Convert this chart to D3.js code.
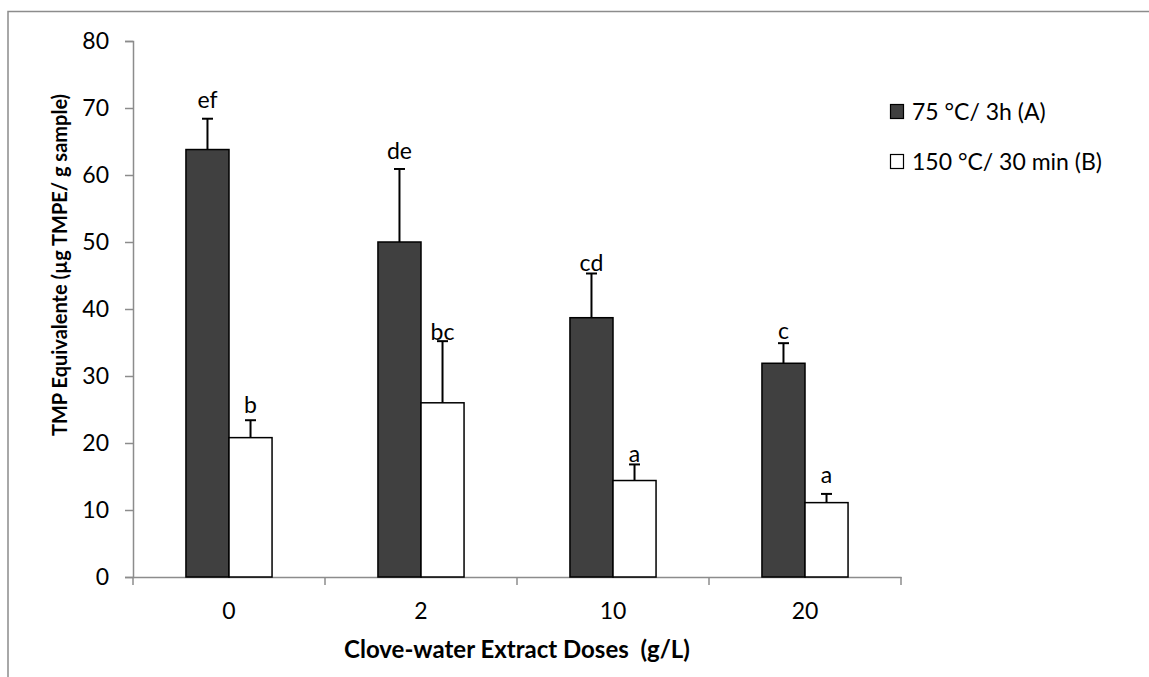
<!DOCTYPE html>
<html lang="en">
<head>
<meta charset="utf-8">
<title>TMP Equivalente</title>
<script src="https://cdn.jsdelivr.net/npm/d3@7"></script>
<style>
  body { margin: 0; background: #fff; }
  text { font-family: Lato, "Open Sans", sans-serif; fill: #000; }
  .axis .domain, .axis line { stroke: #8c8c8c; stroke-width: 1.5; }
</style>
</head>
<body>
<svg id="chart" width="1149" height="677"></svg>
<script>
// data
const doses = ["0", "2", "10", "20"];
const seriesNames = ["75 °C/ 3h (A)", "150 °C/ 30 min (B)"];
const valuesA = [63.8, 50.0, 38.7, 31.9];
const errorsA = [4.6, 10.9, 6.6, 3.0];
const valuesB = [20.8, 26.0, 14.4, 11.1];
const errorsB = [2.6, 9.2, 2.4, 1.3];
const lettersA = ["ef", "de", "cd", "c"];
const lettersB = ["b", "bc", "a", "a"];
// where each letter sits, in y-axis units (labels were placed by hand)
const letterAtA = [70.0, 62.4, 45.6, 35.5];
const letterAtB = [24.5, 35.3, 17.2, 14.0];
const yTicks = [0, 10, 20, 30, 40, 50, 60, 70, 80];

const fills = ["#404040", "#ffffff"];

const svg = d3.select("#chart");
const plot = { left: 133, right: 901, top: 41, bottom: 577 };

// frame around the chart area (only top and left visible)
svg.append("path")
  .attr("d", "M8,677 V11.5 H1149")
  .attr("fill", "none")
  .attr("stroke", "#8c8c8c")
  .attr("stroke-width", 1.5);

const x = d3.scaleBand().domain(doses).range([plot.left, plot.right]);
const xSub = d3.scaleBand().domain([0, 1]).range([0, x.bandwidth()])
  .paddingInner(0).paddingOuter(1.23);
const y = d3.scaleLinear().domain([0, 80]).range([plot.bottom, plot.top]);

// y axis
svg.append("g")
  .attr("class", "axis")
  .attr("transform", `translate(${plot.left},0)`)
  .call(d3.axisLeft(y).tickValues(yTicks).tickSize(8).tickSizeOuter(8).tickPadding(16))
  .call(g => g.selectAll("text").style("font-size", "23px").attr("font-family", null));

// x axis: labels in the middle of each category, ticks on the boundaries
const xAxis = svg.append("g")
  .attr("class", "axis")
  .attr("transform", `translate(0,${plot.bottom})`)
  .call(d3.axisBottom(x).tickSize(0).tickSizeOuter(0).tickPadding(26))
  .call(g => g.selectAll("text").style("font-size", "23px").attr("font-family", null));

const bounds = doses.map(d => x(d)).concat([x.range()[1]]);
xAxis.selectAll("line.bound").data(bounds)
  .join("line")
  .attr("class", "bound")
  .attr("x1", d => d).attr("x2", d => d)
  .attr("y1", 0).attr("y2", 8);

// bars
const series = [
  { vals: valuesA, errs: errorsA, letters: lettersA, at: letterAtA },
  { vals: valuesB, errs: errorsB, letters: lettersB, at: letterAtB }
];

series.forEach((s, si) => {
  const g = svg.append("g");
  const rows = doses.map((d, i) => ({
    dose: d, v: s.vals[i], e: s.errs[i], l: s.letters[i], at: s.at[i]
  }));
  const cx = d => x(d.dose) + xSub(si) + xSub.bandwidth() / 2;

  g.selectAll("rect").data(rows)
    .join("rect")
    .attr("x", d => x(d.dose) + xSub(si))
    .attr("y", d => y(d.v))
    .attr("width", xSub.bandwidth())
    .attr("height", d => y(0) - y(d.v))
    .attr("fill", fills[si])
    .attr("stroke", "#000")
    .attr("stroke-width", 1.5);

  // error bars, upper half only
  g.selectAll("line.err").data(rows)
    .join("line")
    .attr("class", "err")
    .attr("x1", cx).attr("x2", cx)
    .attr("y1", d => y(d.v)).attr("y2", d => y(d.v + d.e))
    .attr("stroke", "#000").attr("stroke-width", 2);

  g.selectAll("line.cap").data(rows)
    .join("line")
    .attr("class", "cap")
    .attr("x1", d => cx(d) - 5.5).attr("x2", d => cx(d) + 5.5)
    .attr("y1", d => y(d.v + d.e)).attr("y2", d => y(d.v + d.e))
    .attr("stroke", "#000").attr("stroke-width", 2);

  g.selectAll("text").data(rows)
    .join("text")
    .attr("x", cx)
    .attr("y", d => y(d.at))
    .attr("text-anchor", "middle")
    .style("font-size", "23px")
    .text(d => d.l);
});

// axis titles
svg.append("text")
  .attr("x", (plot.left + plot.right) / 2)
  .attr("y", 658)
  .attr("text-anchor", "middle")
  .style("font-size", "24px")
  .style("font-weight", "bold")
  .style("white-space", "pre")
  .text("Clove-water Extract Doses  (g/L)");

svg.append("text")
  .attr("transform", "translate(67,265) rotate(-90)")
  .attr("text-anchor", "middle")
  .style("font-size", "20px")
  .style("font-weight", "bold")
  .text("TMP Equivalente (µg TMPE/ g sample)");

// legend
const legend = svg.append("g").attr("transform", "translate(890,0)");
const legendY = d3.scalePoint().domain(seriesNames).range([112, 162]);

legend.selectAll("rect").data(seriesNames)
  .join("rect")
  .attr("x", 0.5)
  .attr("y", d => legendY(d) - 7.5)
  .attr("width", 13)
  .attr("height", 14)
  .attr("fill", (d, i) => fills[i])
  .attr("stroke", "#000")
  .attr("stroke-width", 1.2);

legend.selectAll("text").data(seriesNames)
  .join("text")
  .attr("x", 22)
  .attr("y", d => legendY(d))
  .attr("dy", "0.35em")
  .style("font-size", "23px")
  .text(d => d);
</script>
</body>
</html>
